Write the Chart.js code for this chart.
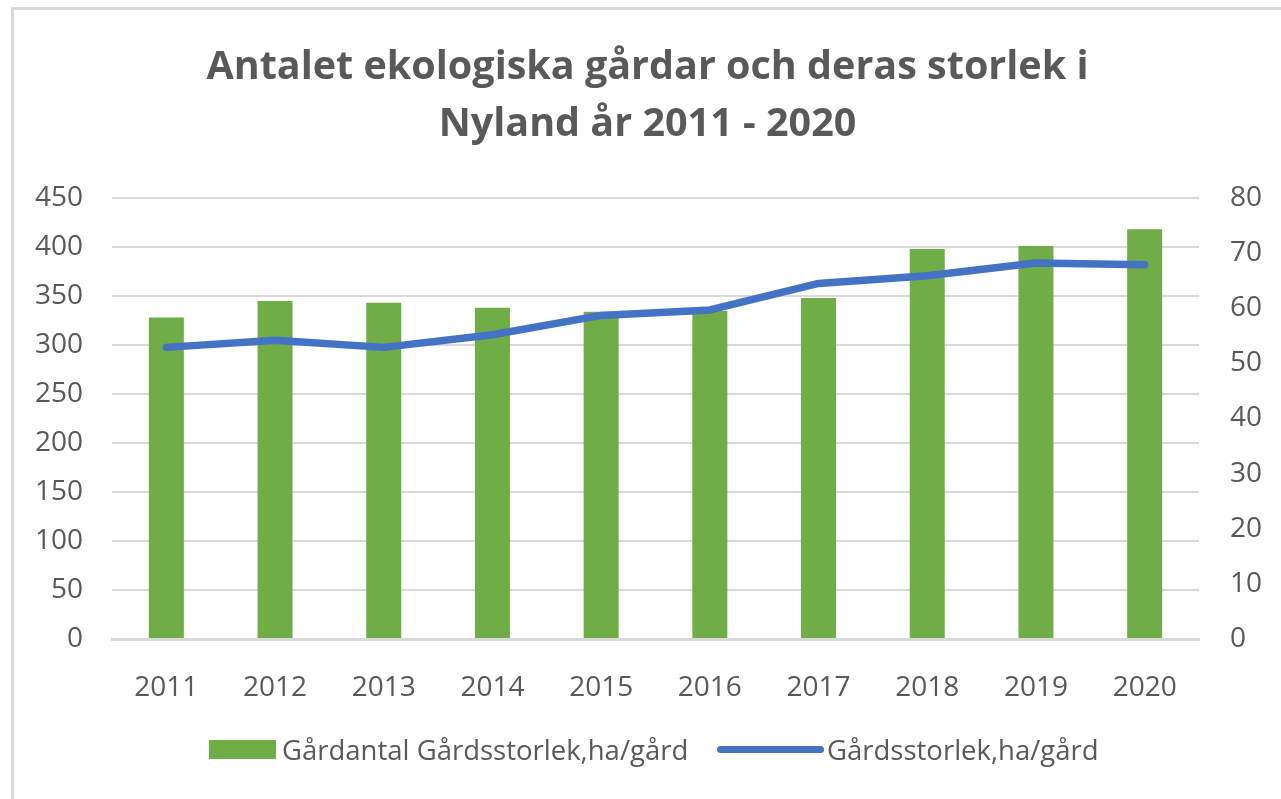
<!DOCTYPE html>
<html>
<head>
<meta charset="utf-8">
<script src="https://cdn.jsdelivr.net/npm/chart.js@4"></script>
<style>
  body { margin: 0; background: #fff; font-family: "Open Sans", sans-serif; }
  #frame { position: absolute; left: 11px; top: 7px; width: 1290px; height: 800px; border: 3px solid #d9d9d9; }
  #chart { position: absolute; left: 0; top: 0; }
  .lg { position: absolute; top: 723px; height: 34px; line-height: 34px; font-size: 27.5px; color: #595959; white-space: nowrap; }
  .lg .sw { position: absolute; }
  .lg .tx { position: absolute; }
</style>
</head>
<body>
<div id="frame">
  <canvas id="chart" width="1267" height="789"></canvas>
  <div id="legend"></div>
</div>
<script>
// data
const years = ['2011', '2012', '2013', '2014', '2015', '2016', '2017', '2018', '2019', '2020'];
const farmCount = [328, 345, 343, 338, 334, 335, 348, 398, 401, 418];
const farmSize = [52.9, 54.2, 52.9, 55.2, 58.7, 59.7, 64.5, 65.9, 68.2, 67.9];
const titleLines = ['Antalet ekologiska gårdar och deras storlek i', 'Nyland år 2011 - 2020'];
const barLabel = 'Gårdantal Gårdsstorlek,ha/gård';
const lineLabel = 'Gårdsstorlek,ha/gård';

const GREEN = '#70ad47';
const BLUE = '#4472c4';
const GREY = '#595959';
const GRID = '#d9d9d9';

const tickFont = { family: '"Open Sans", sans-serif', size: 28 };

new Chart(document.getElementById('chart'), {
    type: 'bar',
    data: {
        labels: years,
        datasets: [
            {
                type: 'line',
                label: lineLabel,
                data: farmSize,
                yAxisID: 'y2',
                borderColor: BLUE,
                backgroundColor: BLUE,
                borderWidth: 7.5,
                borderCapStyle: 'round',
                borderJoinStyle: 'round',
                pointRadius: 0,
                tension: 0,
                order: 1
            },
            {
                label: barLabel,
                data: farmCount,
                yAxisID: 'y',
                backgroundColor: GREEN,
                categoryPercentage: 1,
                barPercentage: 0.322,
                order: 2
            }
        ]
    },
    options: {
        responsive: false,
        animation: false,
        layout: { padding: { top: 0, left: 0, right: 0, bottom: 80 } },
        plugins: {
            legend: { display: false },
            tooltip: { enabled: false },
            title: {
                display: true,
                text: titleLines,
                color: GREY,
                font: { family: '"Open Sans", sans-serif', size: 39.5, weight: 'bold', lineHeight: 1.43 },
                padding: { top: 30, bottom: 45 }
            }
        },
        scales: {
            x: {
                grid: { display: false },
                border: { display: true, color: GRID, width: 3 },
                ticks: { color: GREY, font: tickFont, padding: 24, maxRotation: 0 },
                afterFit: s => { s.height = 80; }
            },
            y: {
                position: 'left',
                min: 0, max: 450,
                ticks: { stepSize: 50, color: GREY, font: tickFont, padding: 29 },
                grid: { color: GRID, lineWidth: 2, drawTicks: false },
                border: { display: false },
                afterFit: s => { s.width = 98; }
            },
            y2: {
                position: 'right',
                min: 0, max: 80,
                ticks: { stepSize: 10, color: GREY, font: tickFont, padding: 31 },
                grid: { display: false, drawTicks: false },
                border: { display: false },
                afterFit: s => { s.width = 82; }
            }
        }
    }
});

// legend as html, placed like the original
const legend = document.getElementById('legend');
legend.innerHTML = `
  <div class="lg" style="left:195px">
    <span class="sw" style="left:0; top:7px; width:67px; height:19px; background:${GREEN}"></span>
    <span class="tx" style="left:73px">${barLabel}</span>
  </div>
  <div class="lg" style="left:703px">
    <span class="sw" style="left:0; top:13px; width:107px; height:7px; border-radius:4px; background:${BLUE}"></span>
    <span class="tx" style="left:110px">${lineLabel}</span>
  </div>`;
</script>
</body>
</html>
